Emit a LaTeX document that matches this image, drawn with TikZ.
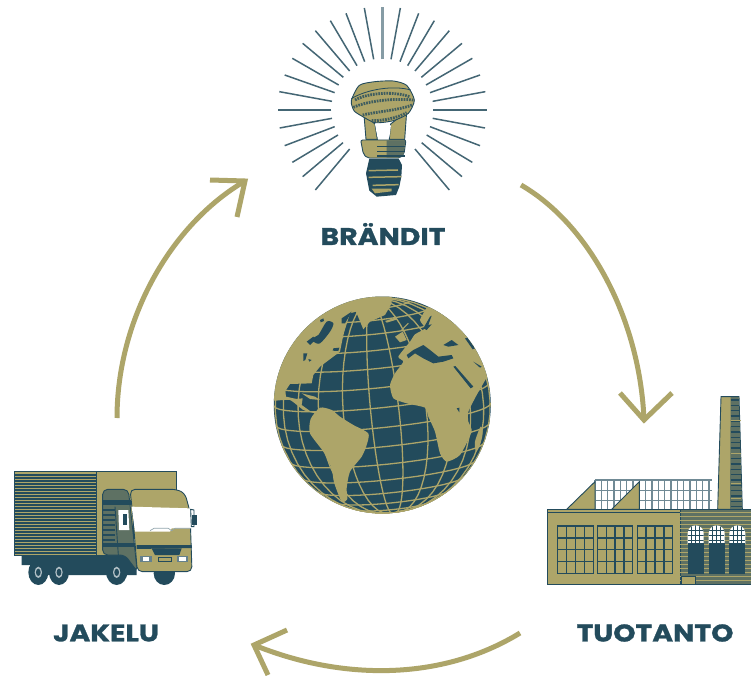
\documentclass[tikz,border=0pt]{standalone}
\usepackage{fontspec}
\setmainfont{Poppins}[BoldFont={Poppins Bold},BoldFeatures={FakeStretch=1.18,FakeBold=1.2}]
\definecolor{gold}{HTML}{ADA569}
\definecolor{teal}{HTML}{234B5C}
\definecolor{olive}{HTML}{5E7163}
\tikzset{
  lbl/.style={text=teal,font=\bfseries\fontsize{24}{24}\selectfont,inner sep=0pt},
  cyc/.style={draw=gold,line width=5pt},
  head/.style={draw=gold,line width=5pt,line join=miter},
  ray/.style={draw=teal!85!white,line width=1.5pt},
  ol/.style={draw=teal,line width=.9pt},
  grat/.style={draw=gold,line width=1.3pt},
  land/.style={fill=gold,draw=none},
  sea/.style={fill=teal,draw=none},
  rope/.style={draw=teal!80!gold,line width=2.8pt,dash pattern=on 1.7pt off 1pt},
}
\begin{document}
\begin{tikzpicture}[x=1pt,y=-1pt]
\useasboundingbox (0,0) rectangle (751,676);
\fill[white] (0,0) rectangle (751,676);

% ---------- connectors
\coordinate (j1) at (117,418); \coordinate (b0) at (245,181);
\coordinate (b1) at (521,185); \coordinate (t0) at (644,420);
\coordinate (t1) at (520,633); \coordinate (j0) at (254,645);
\draw[cyc] (j1) .. controls (117,320) and (170,225) .. (b0);
\draw[head] (210,180) -- (b0) -- (237,217);
\draw[cyc] (b1) .. controls (590,225) and (640,320) .. (t0);
\draw[head] (620,393) -- (t0) -- (672,393);
\draw[cyc] (t1) .. controls (440,682) and (340,680) .. (j0);
\draw[head] (287,630) -- (j0) -- (268,675);

% ---------- labels
\node[lbl] (brandit) at (383,234) {BRÄNDIT};
\node[lbl] (jakelu) at (106,633) {JAKELU};
\node[lbl] (tuotanto) at (655,633) {TUOTANTO};

% ---------- bulb
\begin{scope}[shift={(260,0)},scale=1/3]
  \foreach \a/\b/\c/\d in {393/178/421/24,420/185/476/40,443/197/523/62,465/213/568/92,484/232/606/130,498/255/637/175,510/278/660/225,518/304/676/275,520/330/680/330,518/355/675/384,510/380/660/437,500/405/637/487,485/428/606/530,465/447/568/570}{
    \draw[ray] (\a,\b) -- (\c,\d);
    \draw[ray] ({734-\a},\b) -- ({734-\c},\d);
  }
  \draw[draw=teal!55!white,line width=2.6pt] (367,178) -- (367,20);
  % legs
  \fill[gold,ol] (312,345) -- (345,372) -- (352,418) -- (318,418) -- cycle;
  \fill[gold,ol] (392,372) -- (440,335) -- (434,418) -- (388,418) -- cycle;
  % coil
  \fill[gold,ol] plot[smooth cycle,tension=.42] coordinates {(274,302) (298,256) (345,245) (400,243) (440,256) (463,300) (445,340) (400,362) (345,368) (305,348) (282,332)};
  \draw[teal,line width=.8pt] (274,296) .. controls (320,268) and (400,255) .. (452,270);
  \draw[rope] (285,300) .. controls (320,280) and (400,272) .. (448,290);
  \draw[rope] (280,322) .. controls (330,300) and (410,295) .. (460,300);
  \draw[rope] (308,345) .. controls (350,335) and (420,330) .. (456,315);
  \draw[rope] (335,362) .. controls (370,362) and (410,355) .. (440,338);
  \fill[white] (345,372) -- (393,376) -- (388,412) -- (352,410) -- cycle;
  % collar
  \fill[gold,ol,rounded corners=2pt] (302,420) -- (438,420) -- (432,462) -- (420,474) -- (322,474) -- (310,462) -- cycle;
  \fill[olive] (380,421) -- (436,421) -- (431,462) -- (420,473) -- (380,473) -- cycle;
  \foreach \y in {440,455,468} \draw[teal,line width=1.2pt] (352,\y) -- (434,\y);
  % screw
  \fill[teal] (328,476) -- (416,476) -- (426,495) -- (424,530) -- (418,560) -- (408,585) -- (350,590) -- (328,572) -- (318,520) -- cycle;
  \foreach \y/\l/\r in {512/326/414,532/326/424,556/338/416}
    \draw[gold,line width=1.5pt] (\l,\y) -- (\r,{\y-2});
  \fill[gold] (335,566) -- (395,566) -- (395,574) -- (345,580) -- cycle;
\end{scope}

% ---------- globe
\begin{scope}
  \fill[teal] (382.3,405) circle (108.5);
  \clip (382.3,405) circle (108.5);
  \begin{scope}[shift={(382.3,405)},rotate=6,x=108.5pt,y=108.5pt]
    \foreach \l in {-81.5,-66.5,...,83.5}
      \draw[grat] plot[domain=-88:88,samples=26,variable=\p] ({cos(\p)*sin(\l)},{sin(\p)*cos(7)-cos(\p)*cos(\l)*sin(7)});
    \foreach \k in {-8,...,7}
      \draw[grat] plot[domain=-90:90,samples=21,variable=\l] ({cos(5.6+10.6*\k)*sin(\l)},{sin(5.6+10.6*\k)*cos(7)-cos(5.6+10.6*\k)*cos(\l)*sin(7)});
  \end{scope}
  \begin{scope}[shift={(260,285)},scale=1/3]
    % N. America, Greenland
    \fill[land] plot[smooth,tension=.3] coordinates {(10,345) (45,347) (90,345) (130,375) (165,385)}
      -- (165,378) -- (150,378) -- (125,360) -- (128,340) -- (110,342) -- (78,335) -- (76,318) -- (90,297) -- (155,295) -- (160,270) -- (180,245) -- (240,200) -- (248,160) -- (252,143) -- (270,85) -- (288,80) -- (310,133) -- (330,110) -- (375,90) -- (395,55) -- (395,0) -- (0,0) -- cycle;
    % Arctic waters
    \fill[sea] plot[smooth cycle,tension=.5] coordinates {(155,160) (175,150) (200,110) (220,115) (210,140) (180,175) (160,170)};
    \fill[sea] (140,170) -- (160,155) -- (165,165) -- (150,180) -- cycle;
    \fill[sea] (245,100) -- (275,80) -- (255,115) -- (245,115) -- cycle;
    \fill[sea] (180,105) -- (190,100) -- (192,108) -- (182,112) -- cycle;
    \fill[sea] (220,190) -- (238,188) -- (235,198) -- (218,197) -- cycle;
    \fill[sea] (130,205) -- (142,205) -- (136,225) -- (130,228) -- cycle;
    \fill[sea] (145,222) -- (155,225) -- (148,230) -- cycle;
    % Eurasia and Africa
    \fill[land] plot[smooth,tension=.35] coordinates {(500,68) (480,105) (495,130) (465,148) (450,170) (415,215) (430,230) (405,265) (390,300) (400,340) (440,355) (495,368) (505,395) (525,440) (540,505) (560,530) (600,510) (635,440) (625,410) (625,380) (650,330) (680,278)}
      -- (760,278) -- (760,40) -- cycle;
    % Madagascar
    \fill[land] plot[smooth cycle,tension=.5] coordinates {(662,425) (668,445) (660,480) (648,500) (645,470)};
    % Mediterranean etc.
    \fill[sea] (440,210) -- (460,195) -- (490,180) -- (510,195) -- (535,215) -- (575,210) -- (580,220) -- (550,230) -- (520,235) -- (490,220) -- (465,205) -- (445,220) -- cycle;
    \fill[sea] (550,180) -- (575,165) -- (595,180) -- (565,185) -- cycle;
    \fill[sea] (615,160) -- (622,158) -- (645,190) -- (638,193) -- cycle;
    \fill[sea] (640,230) -- (665,245) -- (660,248) -- cycle;
    \fill[sea] (580,245) -- (586,243) -- (640,305) -- (632,310) -- cycle;
    \fill[sea] (490,130) -- (510,95) -- (515,92) -- (505,120) -- (515,118) -- (500,135) -- cycle;
    \fill[sea] (590,370) -- (598,368) -- (598,382) -- cycle;
    % Iceland, UK
    \fill[land] (375,108) -- (408,97) -- (410,104) -- (380,113) -- cycle;
    \fill[land] (405,155) -- (428,140) -- (440,165) -- (420,172) -- cycle;
    \draw[gold,line width=1pt] (445,115) -- (425,135);
    % S. America
    \fill[land] plot[smooth cycle,tension=.4] coordinates {(150,445) (152,402) (180,368) (215,375) (240,395) (280,420) (325,445) (320,480) (305,515) (270,560) (260,610) (262,642) (245,650) (222,592) (215,550) (190,500)};
    % Caribbean
    \fill[land] (125,325) -- (165,335) -- (180,345) -- (150,342) -- cycle;
  \end{scope}
\end{scope}

% ---------- truck
\begin{scope}[shift={(0,460)},scale=1/3]
  % chassis
  \fill[teal] (65,285) -- (410,285) -- (410,345) -- (90,345) -- (90,315) -- (65,315) -- cycle;
  \foreach \x/\r in {115/28,177/28} \fill[teal] (\x,337) ellipse (\r+2 and 38);
  \fill[teal] (350,335) ellipse (32 and 40);
  \fill[teal] (493,340) ellipse (32 and 35);
  \foreach \x in {115,177,350} {
    \fill[teal!35!white] (\x,337) ellipse (11 and 17);
    \fill[teal] (\x,337) ellipse (7 and 11);
  }
  % cargo box
  \fill[gold,ol] (42,35) rectangle (288,285);
  \foreach \y in {44,53,...,280} \draw[teal,line width=1.8pt] (42,\y) -- (288,\y);
  \fill[gold,ol] (288,35) -- (528,35) -- (528,95) -- (400,95) -- (400,285) -- (288,285) -- cycle;
  % cab rear
  \fill[olive,ol,rounded corners=5pt] (308,88) -- (385,88) -- (412,335) -- (375,285) -- (308,285) -- cycle;
  \fill[teal] (308,120) -- (392,120) -- (392,135) -- (308,135) -- cycle;
  \foreach \y in {150,165,180,195,210,225,240} \draw[teal,line width=1.2pt] (310,\y) -- (345,\y);
  \fill[teal] (308,250) -- (410,250) -- (410,260) -- (308,260) -- cycle;
  % cab front
  \fill[gold,ol,rounded corners=5pt] (390,88) -- (530,88) -- (555,100) -- (570,155) -- (576,335) -- (412,335) -- (398,160) -- cycle;
  \fill[white] (395,140) -- (570,145) -- (575,205) -- (515,205) -- (510,215) -- (445,215) -- (405,215) -- cycle;
  \draw[teal!50!white,line width=.7pt] (450,212) -- (462,205) -- (505,205) -- (515,212) -- (525,205) -- (570,205);
  \fill[white,ol] (572,148) -- (582,150) -- (582,200) -- (574,200) -- cycle;
  \fill[teal] (576,165) -- (590,165) -- (590,195) -- (576,195) -- cycle;
  \fill[white] (355,150) -- (385,150) -- (388,210) -- (357,210) -- cycle;
  \fill[teal] (368,163) -- (382,163) -- (382,195) -- (368,195) -- cycle;
  \draw[ol] (345,140) -- (355,285);
  \fill[teal] (410,255) -- (575,255) -- (576,264) -- (410,267) -- cycle;
  \fill[teal] (455,265) -- (545,265) -- (538,285) -- (465,285) -- cycle;
  \fill[teal!70!white] (420,288) rectangle (455,305);
  \fill[white] (428,291) rectangle (448,302);
  \fill[teal!70!white] (530,288) rectangle (565,305);
  \fill[white] (536,291) rectangle (558,302);
  \draw[teal,line width=.7pt] (475,292) rectangle (515,305);
\end{scope}

% ---------- factory
\begin{scope}[shift={(540,390)},scale=1/3]
  % chimney
  \fill[gold,ol] (543,20) -- (597,20) -- (607,358) -- (533,358) -- cycle;
  \fill[olive] (572,21) -- (596,21) -- (606,357) -- (570,357) -- cycle;
  \foreach \y in {30,46,...,350} \draw[teal,line width=1.1pt] (572,\y) -- ({597+(\y-20)*.03},\y);
  \foreach \y in {90,190,280,325} \draw[gold,line width=1pt] (572,\y) -- (603,\y);
  % glass roof
  \fill[white] (165,270) rectangle (515,360);
  \foreach \x in {165,184,...,515} \draw[teal!65!white,line width=1.4pt] (\x,270) -- (\x,360);
  \foreach \y in {270,302,332} \draw[teal!65!white,line width=1.3pt] (165,\y) -- (515,\y);
  \fill[gold,ol] (80,358) -- (165,275) -- (165,358) -- cycle;
  \fill[gold,ol] (215,358) -- (298,275) -- (298,358) -- cycle;
  % main hall
  \fill[gold,ol] (22,358) rectangle (420,582);
  \draw[teal,line width=.7pt] (22,366) -- (420,366);
  \foreach \a/\b in {52/160,173/278,292/398} {
    \draw[teal,line width=1.6pt] (\a,408) rectangle (\b,550);
    \foreach \k in {1,2,3} {
      \draw[teal,line width=1.4pt] ({\a+(\b-\a)*\k/4},408) -- ({\a+(\b-\a)*\k/4},550);
      \draw[teal,line width=1.4pt] (\a,{408+142*\k/4}) -- (\b,{408+142*\k/4});
    }
  }
  % boiler house
  \fill[olive,ol] (420,358) rectangle (640,582);
  \foreach \y in {368,380,...,580} \draw[gold,line width=.8pt] (420,\y) -- (640,\y);
  \foreach \x in {467,530,592} {
    \begin{scope}
      \path[clip] ({\x-24},430) arc (180:0:24 and -24) -- ({\x+24},462) -- ({\x-24},462) -- cycle;
      \fill[white] ({\x-30},400) rectangle ({\x+30},462);
      \foreach \d in {-12,0,12} \draw[teal,line width=1pt] ({\x+\d},400) -- ({\x+\d},462);
      \foreach \e in {420,436,450} \draw[teal,line width=1pt] ({\x-24},\e) -- ({\x+24},\e);
    \end{scope}
    \fill[teal] ({\x-24},460) rectangle ({\x+24},552);
  }
  \fill[gold,ol] (425,558) rectangle (465,582);
\end{scope}
\end{tikzpicture}
\end{document}
